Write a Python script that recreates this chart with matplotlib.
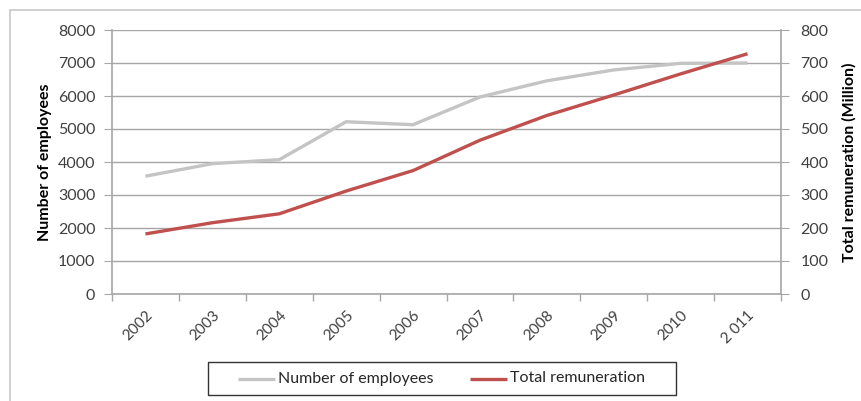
import matplotlib
matplotlib.use("Agg")
import matplotlib.pyplot as plt
from matplotlib.patches import Rectangle
from matplotlib.lines import Line2D

years = ["2002", "2003", "2004", "2005", "2006", "2007", "2008", "2009", "2010", "2 011"]
employees = [3570, 3950, 4070, 5220, 5130, 5970, 6460, 6790, 6990, 7000]
remuneration = [182, 216, 243, 312, 374, 466, 541, 603, 667, 728]
series_names = ["Number of employees", "Total remuneration"]
series_colors = ['#c4c4c4', '#c0504d']

plt.rcParams['font.family'] = ['Lato', 'DejaVu Sans']
W, H = 861, 401
fig = plt.figure(figsize=(W / 100, H / 100), dpi=100)

# outer frame
fig.add_artist(Rectangle((10 / W, -0.1), 1.2, 1 - 10 / H + 0.1, transform=fig.transFigure,
                         fill=False, edgecolor='#c8c8c8', linewidth=1.2))

ax = fig.add_axes([112 / W, 1 - 294 / H, (781 - 112) / W, (294 - 30) / H])
ax2 = ax.twinx()

x = list(range(len(years)))
grid_c = '#a6a6a6'
txt_c = '#404040'
ax.plot(x, employees, color=series_colors[0], linewidth=2.4, solid_capstyle='butt', zorder=3)
ax2.plot(x, remuneration, color=series_colors[1], linewidth=2.4, solid_capstyle='butt', zorder=3)

ax.set_xlim(-0.5, len(years) - 0.5)
ax.set_ylim(0, 8000)
ax2.set_ylim(0, 800)
ax.set_yticks(range(0, 8001, 1000))
ax2.set_yticks(range(0, 801, 100))
ax.yaxis.grid(True, color=grid_c, linewidth=1.0)
ax.set_axisbelow(True)

ax.set_xticks([i - 0.5 for i in range(len(years) + 1)])
ax.set_xticklabels([])
ax.set_xticks(x, minor=True)
ax.set_xticklabels(years, minor=True, rotation=45, ha='right', rotation_mode='anchor',
                   fontsize=11, color=txt_c)
ax.tick_params(axis='x', which='minor', length=0, pad=10)
ax.tick_params(axis='x', which='major', length=5, color=grid_c, width=1.0)

ax.tick_params(axis='y', length=6, color=grid_c, labelsize=11.5, labelcolor=txt_c, pad=6)
ax2.tick_params(axis='y', length=6, color=grid_c, labelsize=11.5, labelcolor=txt_c, pad=8)

for a in (ax, ax2):
    for s in a.spines.values():
        s.set_visible(False)
ax.spines['left'].set_visible(True)
ax.spines['bottom'].set_visible(True)
ax2.spines['right'].set_visible(True)
for s in (ax.spines['left'], ax.spines['bottom'], ax2.spines['right']):
    s.set_color(grid_c)
    s.set_linewidth(1.2)

ax.set_ylabel("Number of employees", fontsize=11.5, fontweight='bold', labelpad=4)
ax2.set_ylabel("Total remuneration (Million)", fontsize=11.5, fontweight='bold', labelpad=10)

# legend box (drawn in figure pixel coordinates)
def fx(px):
    return px / W

def fy(py):
    return 1 - py / H

fig.add_artist(Rectangle((fx(208), fy(395)), fx(676) - fx(208), fy(362) - fy(395),
                         transform=fig.transFigure, fill=True, facecolor='white',
                         edgecolor='#333333', linewidth=1.0))
ly = fy(378.5)
entries = [(238, 275, 278), (470, 507, 510)]
for (h0, h1, tx), name, col in zip(entries, series_names, series_colors):
    fig.add_artist(Line2D([fx(h0), fx(h1)], [ly, ly], transform=fig.transFigure,
                          color=col, linewidth=2.4, solid_capstyle='butt'))
    fig.text(fx(tx), ly, name, ha='left', va='center', fontsize=11.5, color='#262626')

fig.savefig("out.png", dpi=100)
